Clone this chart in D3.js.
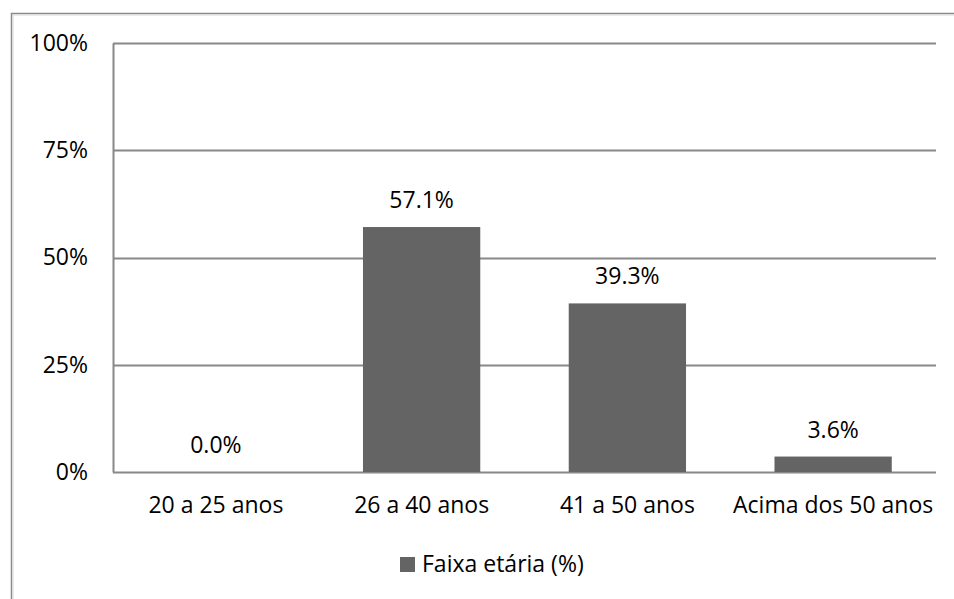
<!DOCTYPE html>
<html>
<head>
<meta charset="utf-8">
<script src="https://cdn.jsdelivr.net/npm/d3@7"></script>
<style>
  html, body { margin: 0; padding: 0; background: #fff; }
  svg { display: block; }
  text { font-family: "Open Sans", "Noto Sans", sans-serif; fill: #000; }
</style>
</head>
<body>
<svg id="chart" width="954" height="599"></svg>
<script>
// Age-group distribution
const categories = ["20 a 25 anos", "26 a 40 anos", "41 a 50 anos", "Acima dos 50 anos"];
const values = [0.0, 57.1, 39.3, 3.6];
const yTicks = [0, 25, 50, 75, 100];
const seriesName = "Faixa etária (%)";

const W = 954, H = 599;
const plot = { left: 113, right: 936, top: 43, bottom: 472 };
const fontSize = 23;
const barColor = "#646464";
const gridColor = "#888888";

const svg = d3.select("#chart");

// outer frame of the chart area (runs past the right and bottom edges)
svg.append("path")
  .attr("d", `M11.5,${H + 5} V13.5 H${W + 5}`)
  .attr("fill", "none")
  .attr("stroke", "#8a8a8a")
  .attr("stroke-width", 1.5);
svg.append("path")
  .attr("d", `M13,${H + 5} V15 H${W + 5}`)
  .attr("fill", "none")
  .attr("stroke", "#d9d9d9")
  .attr("stroke-width", 1);

const x = d3.scaleBand()
  .domain(categories)
  .range([plot.left, plot.right])
  .paddingInner(0.43)
  .paddingOuter(0.215);

const y = d3.scaleLinear()
  .domain([0, 100])
  .range([plot.bottom, plot.top]);

// horizontal gridlines
svg.append("g")
  .selectAll("line")
  .data(yTicks)
  .join("line")
  .attr("x1", plot.left)
  .attr("x2", plot.right)
  .attr("y1", d => Math.round(y(d)) + 0.5)
  .attr("y2", d => Math.round(y(d)) + 0.5)
  .attr("stroke", gridColor)
  .attr("stroke-width", 2);

// y axis
const yAxis = d3.axisLeft(y)
  .tickValues(yTicks)
  .tickFormat(d => d + "%")
  .tickSize(0)
  .tickPadding(25);

const gy = svg.append("g")
  .attr("transform", `translate(${plot.left},0)`)
  .call(yAxis);
gy.select(".domain")
  .attr("stroke", gridColor)
  .attr("stroke-width", 2);
gy.selectAll("text")
  .attr("font-size", fontSize)
  .attr("font-family", '"Open Sans", "Noto Sans", sans-serif')
  .attr("fill", "#000");

// bars
svg.append("g")
  .selectAll("rect")
  .data(values)
  .join("rect")
  .attr("x", (d, i) => x(categories[i]))
  .attr("width", x.bandwidth())
  .attr("y", d => y(d))
  .attr("height", d => y(0) - y(d))
  .attr("fill", barColor);

// value labels
svg.append("g")
  .selectAll("text")
  .data(values)
  .join("text")
  .attr("x", (d, i) => x(categories[i]) + x.bandwidth() / 2)
  .attr("y", d => y(d) - 19)
  .attr("text-anchor", "middle")
  .attr("font-size", fontSize)
  .text(d => d.toFixed(1) + "%");

// x axis
const xAxis = d3.axisBottom(x).tickSize(0).tickPadding(25);
const gx = svg.append("g")
  .attr("transform", `translate(0,${plot.bottom})`)
  .call(xAxis);
gx.select(".domain").remove();
gx.selectAll("text")
  .attr("font-size", fontSize)
  .attr("font-family", '"Open Sans", "Noto Sans", sans-serif')
  .attr("fill", "#000");

// legend
const legend = svg.append("g").attr("transform", "translate(400,557)");
legend.append("rect")
  .attr("width", 15)
  .attr("height", 15)
  .attr("fill", barColor);
legend.append("text")
  .attr("x", 22)
  .attr("y", 15)
  .attr("font-size", fontSize)
  .text(seriesName);
</script>
</body>
</html>
